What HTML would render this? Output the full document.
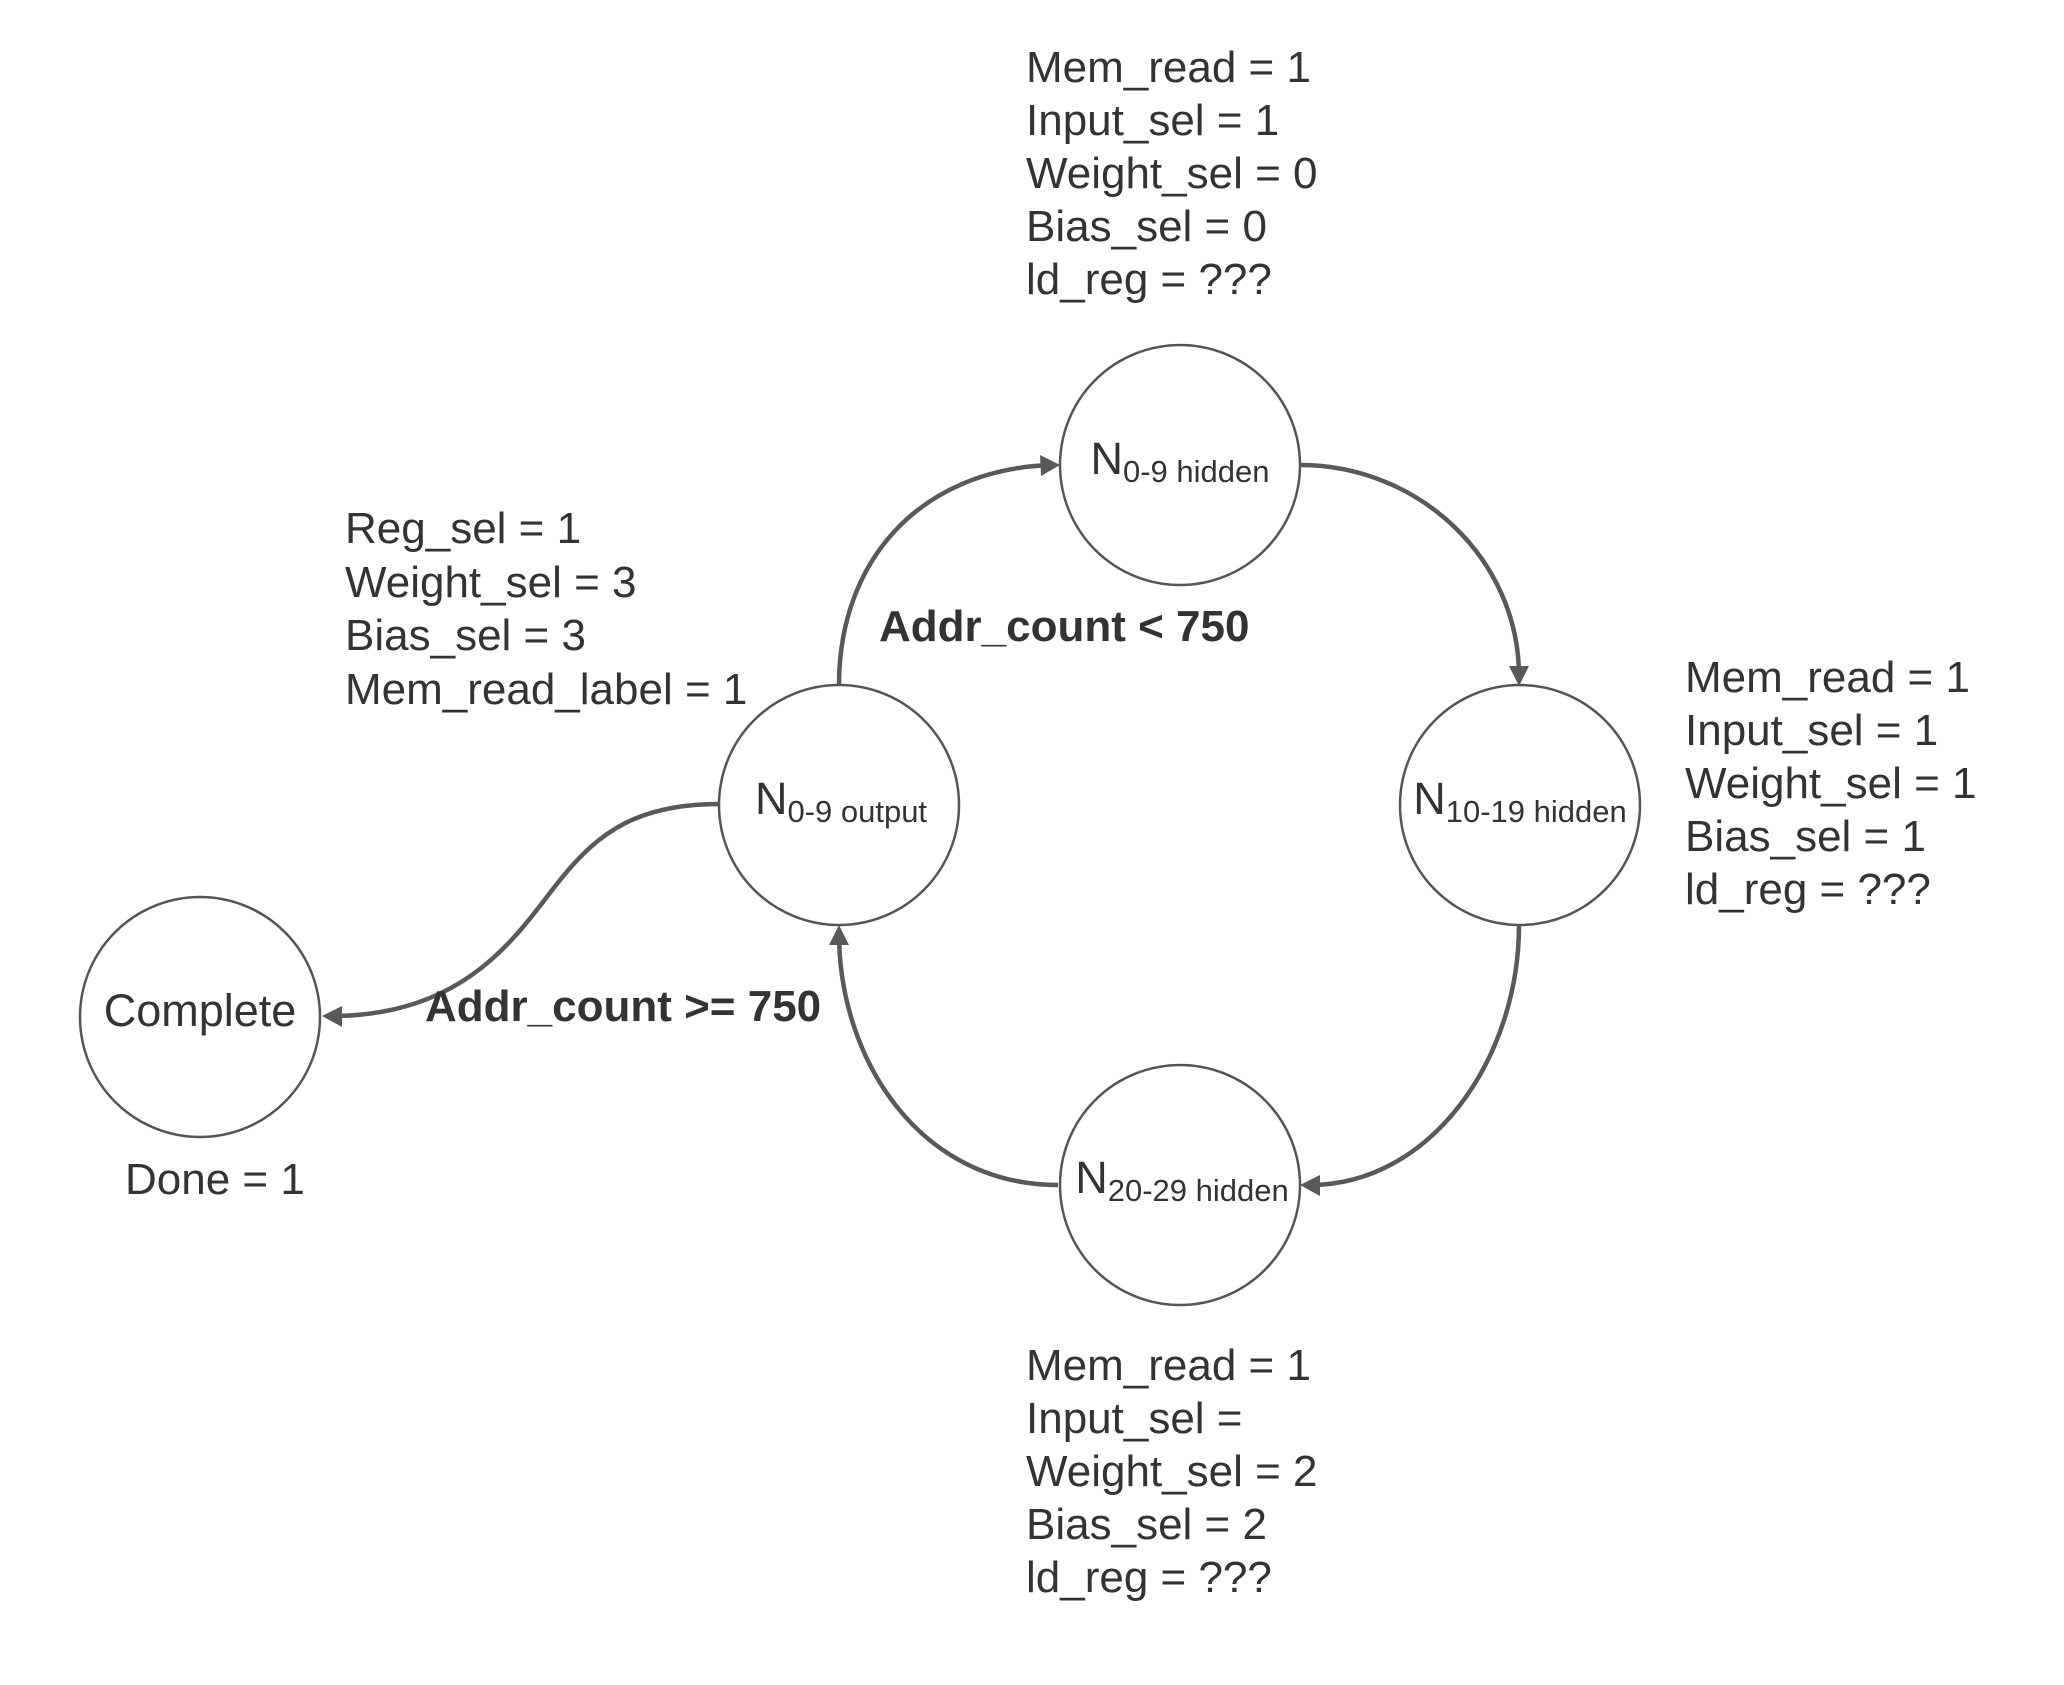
<!DOCTYPE html>
<html><head><meta charset="utf-8"><style>
html,body{margin:0;padding:0;background:#fff;}
svg{display:block;}
text{font-family:"Liberation Sans",sans-serif;fill:#333;}
.t{font-size:44px;}
.b{font-size:44px;font-weight:bold;}
.n{font-size:45px;}
.s{font-size:31px;}
</style></head><body>
<svg width="2064" height="1685" viewBox="0 0 2064 1685" xmlns="http://www.w3.org/2000/svg">
<g fill="none" stroke="#595959" stroke-width="4.5">
<path d="M839,685 C839,560 920,470 1050,465"/>
<path d="M1300,465 C1420,465 1519,560 1519,676"/>
<path d="M1519,925 C1519,1060 1430,1185 1310,1185"/>
<path d="M1058,1185 C920,1185 839,1060 839,933"/>
<path d="M720,804 C640,804 600,830 560,880 C520,930 470,1016 332,1016"/>
</g>
<g fill="#595959">
<path d="M1060,465 L1040,455 L1041,476 z"/>
<path d="M1519,686 L1509,666 L1529,666 z"/>
<path d="M1300,1185 L1320,1175 L1320,1196 z"/>
<path d="M839,925 L829,945 L849,945 z"/>
<path d="M322,1016 L342,1006 L342,1027 z"/>
</g>
<g fill="#fff" stroke="#555" stroke-width="2.5">
<circle cx="1180" cy="465" r="120"/>
<circle cx="1520" cy="805" r="120"/>
<circle cx="1180" cy="1185" r="120"/>
<circle cx="839" cy="805" r="120"/>
<circle cx="200" cy="1017" r="120"/>
</g>
<text class="n" x="1180" y="474" text-anchor="middle">N<tspan class="s" dy="8">0-9 hidden</tspan></text>
<text class="n" x="1520" y="814" text-anchor="middle">N<tspan class="s" dy="8">10-19 hidden</tspan></text>
<text class="n" x="1182" y="1193" text-anchor="middle">N<tspan class="s" dy="8">20-29 hidden</tspan></text>
<text class="n" x="841" y="814" text-anchor="middle">N<tspan class="s" dy="8">0-9 output</tspan></text>
<text class="n" x="200" y="1026" text-anchor="middle">Complete</text>

<text class="t" x="1026" y="82">Mem_read = 1</text>
<text class="t" x="1026" y="135">Input_sel = 1</text>
<text class="t" x="1026" y="188">Weight_sel = 0</text>
<text class="t" x="1026" y="241">Bias_sel = 0</text>
<text class="t" x="1026" y="294">ld_reg = ???</text>

<text class="t" x="1685" y="692">Mem_read = 1</text>
<text class="t" x="1685" y="745">Input_sel = 1</text>
<text class="t" x="1685" y="798">Weight_sel = 1</text>
<text class="t" x="1685" y="851">Bias_sel = 1</text>
<text class="t" x="1685" y="904">ld_reg = ???</text>

<text class="t" x="345" y="543">Reg_sel = 1</text>
<text class="t" x="345" y="597">Weight_sel = 3</text>
<text class="t" x="345" y="650">Bias_sel = 3</text>
<text class="t" x="345" y="704">Mem_read_label = 1</text>

<text class="t" x="1026" y="1380">Mem_read = 1</text>
<text class="t" x="1026" y="1433">Input_sel =</text>
<text class="t" x="1026" y="1486">Weight_sel = 2</text>
<text class="t" x="1026" y="1539">Bias_sel = 2</text>
<text class="t" x="1026" y="1592">ld_reg = ???</text>

<text class="t" x="125" y="1194">Done = 1</text>
<text class="b" x="879" y="641">Addr_count &lt; 750</text>
<text class="b" x="425" y="1021">Addr_count &gt;= 750</text>
</svg>
</body></html>
